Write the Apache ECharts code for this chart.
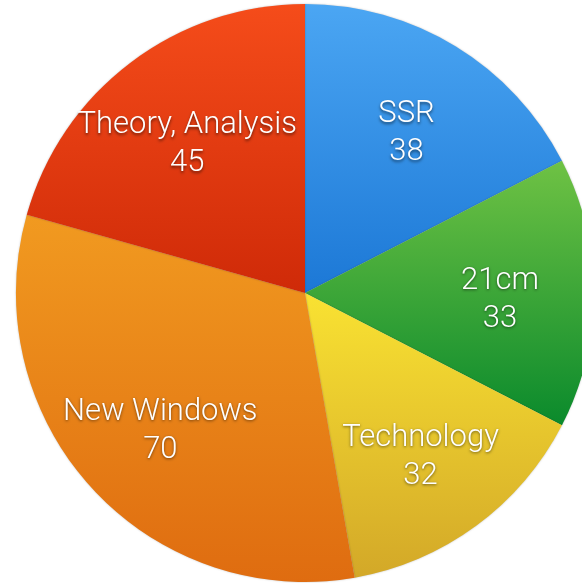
<!DOCTYPE html>
<html>
<head>
<meta charset="utf-8">
<script src="https://cdn.jsdelivr.net/npm/echarts@6/dist/echarts.min.js"></script>
<style>html,body{margin:0;padding:0;background:#fff;}#c{width:582px;height:583px;}</style>
</head>
<body>
<div id="c"></div>
<script>
var categories = ['SSR', '21cm', 'Technology', 'New Windows', 'Theory, Analysis'];
var values = [38, 33, 32, 70, 45];
var topColors = ['#4ba6f3', '#6fc244', '#f9e232', '#f19a20', '#f54c1a'];
var bottomColors = ['#1c78d6', '#0a8a2c', '#d3a828', '#df6c10', '#cf2a08'];

var data = categories.map(function (c, i) {
  return {
    name: c,
    value: values[i],
    itemStyle: {
      color: new echarts.graphic.LinearGradient(0, 0, 0, 1, [
        { offset: 0, color: topColors[i] },
        { offset: 1, color: bottomColors[i] }
      ])
    }
  };
});
var labelData = categories.map(function (c, i) { return { name: c, value: values[i] }; });

var chart = echarts.init(document.getElementById('c'), null, { renderer: 'canvas' });
chart.setOption({
  animation: false,
  series: [
    {
      type: 'pie',
      center: [305, 293],
      radius: [0, 289],
      startAngle: 90,
      clockwise: true,
      silent: true,
      label: { show: false },
      labelLine: { show: false },
      itemStyle: { borderWidth: 0, shadowBlur: 2, shadowColor: 'rgba(0,0,0,0.25)' },
      data: data
    },
    {
      type: 'pie',
      center: [305, 293],
      radius: [95, 289],
      startAngle: 90,
      clockwise: true,
      silent: true,
      itemStyle: { color: 'rgba(0,0,0,0)', borderWidth: 0 },
      labelLine: { show: false },
      label: {
        show: true,
        position: 'inside',
        offset: [0, 7],
        formatter: '{b}\n{c}',
        color: '#ffffff',
        fontFamily: 'Roboto, "Liberation Sans", sans-serif',
        fontWeight: 300,
        fontSize: 31,
        lineHeight: 38,
        textBorderWidth: 0,
        textShadowColor: 'rgba(0,0,0,0.55)',
        textShadowBlur: 3,
        textShadowOffsetY: 1.5
      },
      data: labelData
    }
  ]
});
</script>
</body>
</html>
